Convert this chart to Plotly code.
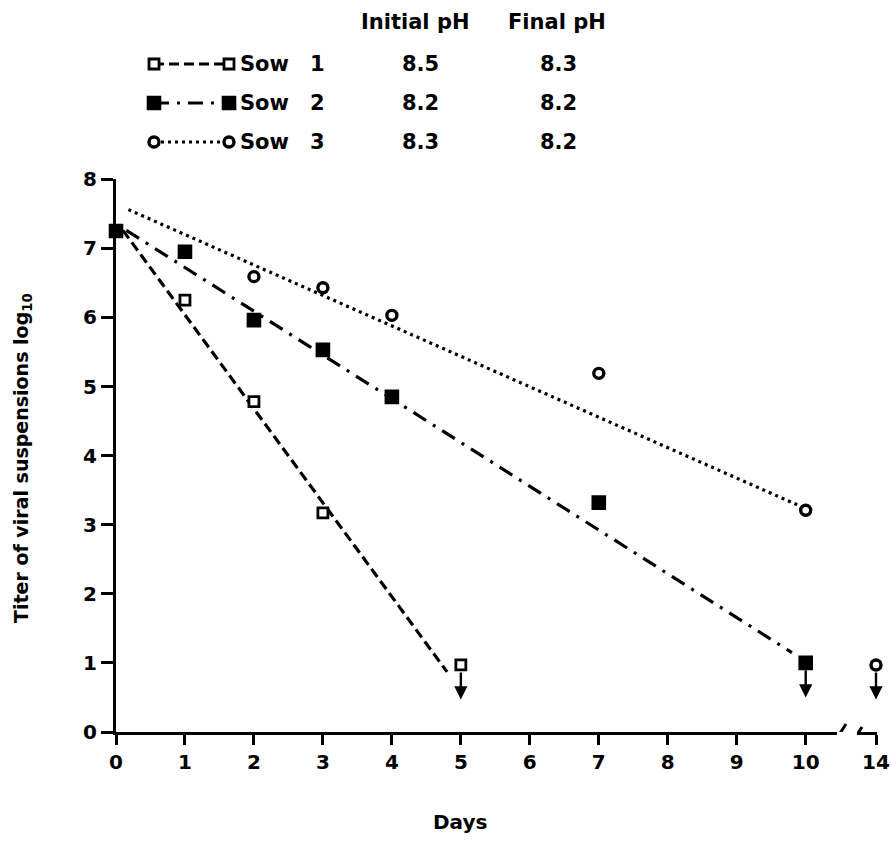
import plotly.graph_objects as go

# ---------------- data ----------------
days_sow1 = [0, 1, 2, 3, 5]
titer_sow1 = [7.25, 6.25, 4.78, 3.17, 0.97]

days_sow2 = [0, 1, 2, 3, 4, 7, 10]
titer_sow2 = [7.25, 6.95, 5.96, 5.53, 4.85, 3.32, 1.0]

days_sow3 = [2, 3, 4, 7, 10, 14]
titer_sow3 = [6.59, 6.43, 6.03, 5.19, 3.21, 0.97]

# regression lines (start / end)
fit_sow1_x = [0.1, 4.8]
fit_sow1_y = [7.26, 0.87]
fit_sow2_x = [0.15, 9.8]
fit_sow2_y = [7.26, 1.15]
fit_sow3_x = [0.18, 9.94]
fit_sow3_y = [7.56, 3.26]

# points below detection limit (arrow down): (sow index, day)
below_limit = [(1, 5), (2, 10), (3, 14)]

sow_labels = ["1", "2", "3"]
initial_ph = ["8.5", "8.2", "8.3"]
final_ph = ["8.3", "8.2", "8.2"]

x_ticks_main = [0, 1, 2, 3, 4, 5, 6, 7, 8, 9, 10]
x_ticks_break = [14]
y_ticks = [0, 1, 2, 3, 4, 5, 6, 7, 8]

# ---------------- layout geometry ----------------
W, H = 891, 841
ML, MR, MT, MB = 116, 14, 10, 109
PW, PH = W - ML - MR, H - MT - MB
BOTTOM_PX = H - MB            # y=0 pixel
UNIT_X = 68.97                # px per day
UNIT_Y = 69.1                 # px per log unit
AX1_END = 837
AX2_START = 857


def px2paper_x(px):
    return (px - ML) / PW


def px2paper_y(py):
    return (BOTTOM_PX - py) / PH


BREAK_DAY = 14
styles = {
    1: dict(dash="10px,5px", symbol="square", fill="white", size=10, lw=2.8),
    2: dict(dash="15px,8px,3px,8px", symbol="square", fill="black", size=12, lw=2.6),
    3: dict(dash="3px,4px", symbol="circle", fill="white", size=10, lw=3.4),
}
series = {
    1: (days_sow1, titer_sow1, fit_sow1_x, fit_sow1_y),
    2: (days_sow2, titer_sow2, fit_sow2_x, fit_sow2_y),
    3: (days_sow3, titer_sow3, fit_sow3_x, fit_sow3_y),
}

fig = go.Figure()

LW = 3.2
for k in [3, 1, 2]:
    dx, dy, fx, fy = series[k]
    st = styles[k]
    fig.add_trace(go.Scatter(x=fx, y=fy, mode="lines",
                             line=dict(color="black", width=LW, dash=st["dash"]),
                             xaxis="x", yaxis="y", showlegend=False, hoverinfo="skip"))

for k in [3, 1, 2]:
    dx, dy, fx, fy = series[k]
    st = styles[k]
    mk = dict(symbol=st["symbol"], size=st["size"], color=st["fill"],
              line=dict(color="black", width=st["lw"]))
    mx = [d for d in dx if d < BREAK_DAY]
    my = [v for d, v in zip(dx, dy) if d < BREAK_DAY]
    bx = [d for d in dx if d >= BREAK_DAY]
    by = [v for d, v in zip(dx, dy) if d >= BREAK_DAY]
    fig.add_trace(go.Scatter(x=mx, y=my, mode="markers", marker=mk, cliponaxis=False,
                             xaxis="x", yaxis="y", showlegend=False))
    if bx:
        fig.add_trace(go.Scatter(x=bx, y=by, mode="markers", marker=mk, cliponaxis=False,
                                 xaxis="x2", yaxis="y", showlegend=False))

annotations = []
# arrows for values below detection limit
for k, d in below_limit:
    dx, dy = series[k][0], series[k][1]
    v = dy[dx.index(d)]
    xr = "x2" if d >= BREAK_DAY else "x"
    annotations.append(dict(x=d, y=v - 0.5, ax=d, ay=v - 0.1, xref=xr, yref="y",
                            axref=xr, ayref="y", showarrow=True, arrowhead=2,
                            arrowsize=1.1, arrowwidth=2.4, arrowcolor="black",
                            text="", font=dict(size=1), borderpad=0,
                            standoff=0, startstandoff=0))

# ---------------- custom legend (overlay axis in pixel units) ----------------
legend_rows_py = [64, 103, 142]
LEG_X0, LEG_X1 = 154, 229
for i, k in enumerate([1, 2, 3]):
    st = styles[k]
    py = legend_rows_py[i]
    fig.add_trace(go.Scatter(x=[LEG_X0, LEG_X1], y=[py, py], mode="lines+markers",
                             line=dict(color="black", width=LW, dash=st["dash"]),
                             marker=dict(symbol=st["symbol"], size=st["size"], color=st["fill"],
                                         line=dict(color="black", width=st["lw"])),
                             xaxis="x3", yaxis="y3", showlegend=False, hoverinfo="skip"))
    annotations.append(dict(x=238, y=py, xref="x3", yref="y3", text="Sow",
                            showarrow=False, xanchor="left", yanchor="middle",
                            font=dict(size=21)))
    annotations.append(dict(x=317, y=py, xref="x3", yref="y3", text=sow_labels[i],
                            showarrow=False, xanchor="center", yanchor="middle",
                            font=dict(size=21)))
    annotations.append(dict(x=420, y=py, xref="x3", yref="y3", text=initial_ph[i],
                            showarrow=False, xanchor="center", yanchor="middle",
                            font=dict(size=21)))
    annotations.append(dict(x=558, y=py, xref="x3", yref="y3", text=final_ph[i],
                            showarrow=False, xanchor="center", yanchor="middle",
                            font=dict(size=21)))

annotations.append(dict(x=415, y=22, xref="x3", yref="y3", text="Initial pH",
                        showarrow=False, xanchor="center", yanchor="middle",
                        font=dict(size=21)))
annotations.append(dict(x=557, y=22, xref="x3", yref="y3", text="Final pH",
                        showarrow=False, xanchor="center", yanchor="middle",
                        font=dict(size=21)))

# axis titles
annotations.append(dict(x=px2paper_x(22), y=px2paper_y(458), xref="paper", yref="paper",
                        text="Titer of viral suspensions log<sub>10</sub>", textangle=-90,
                        showarrow=False, xanchor="center", yanchor="middle",
                        font=dict(size=19)))
annotations.append(dict(x=px2paper_x(460), y=px2paper_y(822), xref="paper", yref="paper",
                        text="Days", showarrow=False, xanchor="center", yanchor="middle",
                        font=dict(size=20)))

# axis break marks
shapes = [
    dict(type="line", xref="x3", yref="y3", x0=835, y0=741, x1=846, y1=724,
         line=dict(color="black", width=3)),
    dict(type="line", xref="x3", yref="y3", x0=853, y0=741, x1=862, y1=727,
         line=dict(color="black", width=3)),
]

axis_common = dict(showline=True, linecolor="black", linewidth=3, ticks="outside",
                   tickcolor="black", tickwidth=3, showgrid=False, zeroline=False,
                   tickfont=dict(size=20))

y_top = px2paper_y(BOTTOM_PX - 8 * UNIT_Y)

fig.update_layout(
    width=W, height=H,
    margin=dict(l=ML, r=MR, t=MT, b=MB, autoexpand=False),
    paper_bgcolor="white", plot_bgcolor="rgba(0,0,0,0)",
    font=dict(family="DejaVu Sans", size=20, color="black", weight="bold"),
    xaxis=dict(domain=[0, px2paper_x(AX1_END)], range=[0, (AX1_END - ML) / UNIT_X],
               tickvals=x_ticks_main, ticklen=10, anchor="y", **axis_common),
    xaxis2=dict(domain=[px2paper_x(AX2_START), 1],
                range=[BREAK_DAY - (W - MR - 1 - AX2_START) / UNIT_X, BREAK_DAY + 1 / UNIT_X],
                tickvals=x_ticks_break, ticklen=10, anchor="y", **axis_common),
    yaxis=dict(domain=[0, y_top], range=[0, 8], tickvals=y_ticks, ticklen=12,
               anchor="x", **axis_common),
    xaxis3=dict(domain=[0, 1], range=[ML, W - MR], visible=False, anchor="y3",
                fixedrange=True),
    yaxis3=dict(domain=[0, 1], range=[BOTTOM_PX, MT], visible=False, anchor="x3",
                fixedrange=True),
    annotations=annotations,
    shapes=shapes,
    showlegend=False,
)

fig.write_html("out.html", config={"displayModeBar": False},
               post_script="document.body.style.margin='0';document.body.style.overflow='hidden';")
